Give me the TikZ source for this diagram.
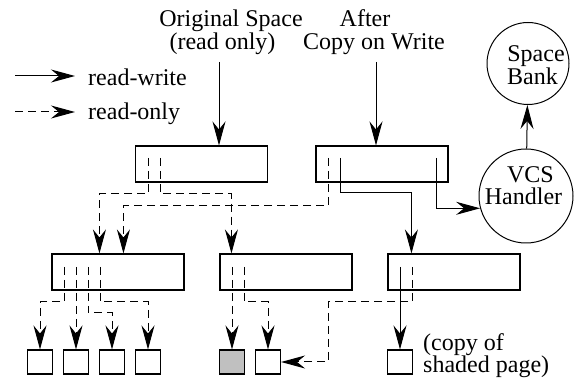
\documentclass[tikz,border=0pt]{standalone}
\usepackage{fontspec}
\setmainfont{Liberation Serif}
\usetikzlibrary{arrows.meta}
\definecolor{shade}{RGB}{192,192,192}
\begin{document}
\begin{tikzpicture}[x=1pt,y=-1pt,
  box/.style={draw,line width=1.1pt,minimum width=132pt,minimum height=36pt,inner sep=0pt},
  leaf/.style={draw,line width=1.1pt,minimum width=25pt,minimum height=24pt,inner sep=0pt},
  ball/.style={draw,circle,line width=1pt,inner sep=0pt},
  txt/.style={font=\fontsize{24}{21}\selectfont,inner sep=0pt},
  tip/.style={-{Stealth[length=24pt,width=13pt,inset=8pt]}},
  rw/.style={line width=1pt,tip},
  ro/.style={line width=1pt,dash pattern=on 8pt off 5pt,tip},
]
\useasboundingbox (0,0) rectangle (576,379);

% boxes
\node[box] (b1) at (201.5,164) {};
\node[box] (b2) at (382,164) {};
\node[box] (b3) at (118,272) {};
\node[box] (b4) at (286,272) {};
\node[box] (b5) at (454,272) {};

% leaves
\node[leaf] (l1) at (40,362) {};
\node[leaf] (l2) at (76,362) {};
\node[leaf] (l3) at (112,362) {};
\node[leaf] (l4) at (148,362) {};
\node[leaf,fill=shade] (l5) at (232,362) {};
\node[leaf] (l6) at (268,362) {};
\node[leaf] (l7) at (400,362) {};

% circles
\node[ball,minimum size=94pt] (vcs) at (526,196) {};
\node[ball,minimum size=82pt] (sb) at (528,63.5) {};

% texts
\node[txt,anchor=base] (tOS) at (231,27) {Original Space};
\node[txt,anchor=base] (tRO) at (222.5,50) {(read only)};
\node[txt,anchor=base] (tAf) at (365,27) {After};
\node[txt,anchor=base] (tCW) at (374,50) {Copy on Write};
\node[txt,anchor=base] (tSp) at (536,62) {Space};
\node[txt,anchor=base] (tBk) at (532.5,85) {Bank};
\node[txt,anchor=base] (tVC) at (530.5,183) {VCS};
\node[txt,anchor=base] (tHa) at (523.5,205) {Handler};
\node[txt,anchor=north west,align=left] (tcp) at (423,333) {(copy of\\shaded page)};
\node[txt,anchor=base west] (lgw) at (88,86) {read-write};
\node[txt,anchor=base west] (lgo) at (88,120) {read-only};

% legend
\coordinate (lw0) at (15,76);
\coordinate (lw1) at (75,76);
\coordinate (lo0) at (15,112);
\coordinate (lo1) at (75,112);
\draw[rw] (lw0) -- (lw1);
\draw[ro] (lo0) -- (lo1);

% top arrows
\coordinate (sA) at (219,62);
\coordinate (sB) at (376,62);
\draw[rw] (sA) -- (sA |- b1.north);
\draw[rw] (sB) -- (sB |- b2.north);

% pointer origins
\coordinate (o1a) at (148,158);
\coordinate (o1b) at (160,158);
\coordinate (o2a) at (328,158);
\coordinate (o2b) at (340,158);
\coordinate (o2c) at (436,158);
\coordinate (o3a) at (64,267);
\coordinate (o3b) at (76,267);
\coordinate (o3c) at (88,267);
\coordinate (o3d) at (100,267);
\coordinate (o4a) at (232,267);
\coordinate (o4b) at (244,267);
\coordinate (o5a) at (400,267);
\coordinate (o5b) at (412,267);

% level 1 -> level 2
\draw[ro] (o1a) -- ++(0,36) -| ([xshift=48pt]b3.north west);
\draw[ro] (o1b) -- ++(0,36) -| ([xshift=12pt]b4.north west);
\draw[ro] (o2a) -- ++(0,48) -| ([xshift=72pt]b3.north west);
\draw[rw] (o2b) -- ++(0,35) -| ([xshift=24pt]b5.north west);
\draw[rw] (o2c) |- (vcs.195);
\draw[rw] (vcs) -- (sb);

% level 2 -> leaves
\draw[ro] (o3a) -- ++(0,35) -| (l1.north);
\draw[ro] (o3b) -- (l2.north);
\draw[ro] (o3c) -- ++(0,46) -| (l3.north);
\draw[ro] (o3d) -- ++(0,35) -| (l4.north);
\draw[ro] (o4a) -- (l5.north);
\draw[ro] (o4b) -- ++(0,35) -| (l6.north);
\draw[rw] (o5a) -- (l7.north);
\draw[ro] (o5b) -- ++(0,35) -- ++(-84,0) |- (l6.east);
\end{tikzpicture}
\end{document}
